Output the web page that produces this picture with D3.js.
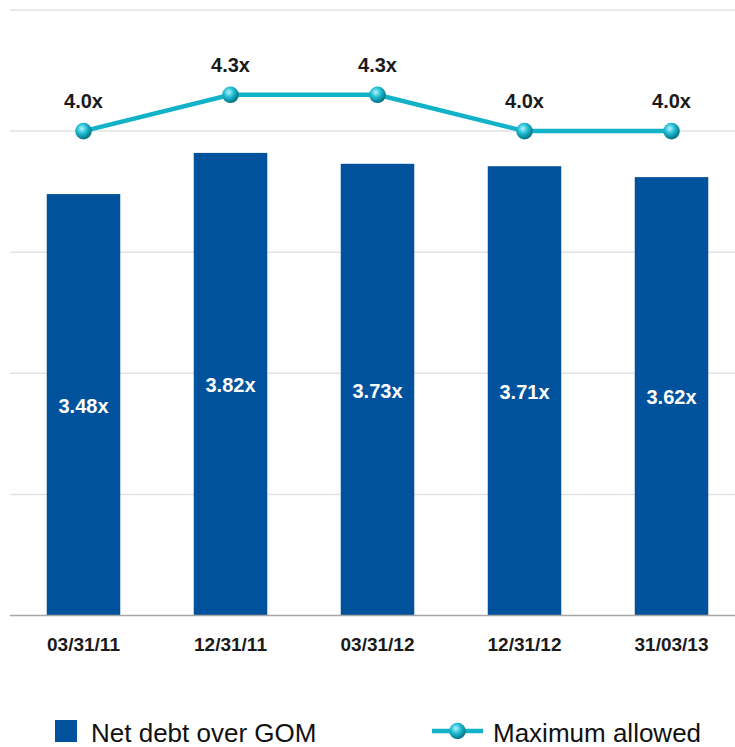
<!DOCTYPE html>
<html>
<head>
<meta charset="utf-8">
<script src="https://cdn.jsdelivr.net/npm/d3@7"></script>
<style>
  body { margin: 0; background: #fff; }
  text { font-family: "Liberation Sans", Arial, sans-serif; }
</style>
</head>
<body>
<script>
// chart values
var categories = ["03/31/11", "12/31/11", "03/31/12", "12/31/12", "31/03/13"];
var netDebt = [3.48, 3.82, 3.73, 3.71, 3.62];
var maxAllowed = [4.0, 4.3, 4.3, 4.0, 4.0];
var yTicks = [0, 1, 2, 3, 4, 5];
var seriesNames = ["Net debt over GOM", "Maximum allowed"];

var svgWidth = 735, svgHeight = 747;
var barColor = "#00529c", lineColor = "#12b2c8";

var svg = d3.select("body").append("svg").attr("width", svgWidth).attr("height", svgHeight);

var defs = svg.append("defs");
var grad = defs.append("radialGradient").attr("id", "ball")
  .attr("cx", "40%").attr("cy", "35%").attr("r", "65%");
grad.append("stop").attr("offset", "0%").attr("stop-color", "#b8f2fa");
grad.append("stop").attr("offset", "45%").attr("stop-color", "#22bfd6");
grad.append("stop").attr("offset", "100%").attr("stop-color", "#02707f");

var x = d3.scaleBand().domain(categories).range([10, 745]).paddingInner(0.5).paddingOuter(0.25);
var y = d3.scaleLinear().domain([0, 5]).range([615.5, 10]);

// gridlines
svg.append("g").selectAll("line").data(yTicks.filter(d => d > 0)).enter().append("line")
  .attr("x1", 10).attr("x2", 735)
  .attr("y1", d => y(d)).attr("y2", d => y(d))
  .attr("stroke", "#e2e2e2").attr("stroke-width", 1.5);

// bars
svg.append("g").selectAll("rect").data(netDebt).enter().append("rect")
  .attr("x", (d, i) => x(categories[i]))
  .attr("width", x.bandwidth())
  .attr("y", d => y(d))
  .attr("height", d => y(0) - y(d))
  .attr("fill", barColor);

// x axis
var xAxis = svg.append("g").attr("transform", `translate(0,${y(0)})`)
  .call(d3.axisBottom(x).tickSize(0).tickPadding(22));
xAxis.select(".domain").attr("d", "M10,0H735").attr("stroke", "#a6a6a6").attr("stroke-width", 1.5);
xAxis.selectAll("text").attr("font-size", "19px").attr("font-weight", "bold").attr("fill", "#1a1a1a")
  .attr("font-family", "Liberation Sans, Arial, sans-serif");

// bar labels
svg.append("g").selectAll("text").data(netDebt).enter().append("text")
  .attr("x", (d, i) => x(categories[i]) + x.bandwidth() / 2)
  .attr("y", d => (y(d) + y(0)) / 2 + 8)
  .attr("text-anchor", "middle")
  .attr("font-size", "20px").attr("font-weight", "bold").attr("fill", "#fff")
  .text(d => d.toFixed(2) + "x");

// line
var line = d3.line().x((d, i) => x(categories[i]) + x.bandwidth() / 2).y(d => y(d));
svg.append("path").datum(maxAllowed)
  .attr("d", line).attr("fill", "none").attr("stroke", lineColor).attr("stroke-width", 4.5);

svg.append("g").selectAll("circle").data(maxAllowed).enter().append("circle")
  .attr("cx", (d, i) => x(categories[i]) + x.bandwidth() / 2)
  .attr("cy", d => y(d))
  .attr("r", 8.3)
  .attr("fill", "url(#ball)");

svg.append("g").selectAll("text").data(maxAllowed).enter().append("text")
  .attr("x", (d, i) => x(categories[i]) + x.bandwidth() / 2)
  .attr("y", d => y(d) - 23)
  .attr("text-anchor", "middle")
  .attr("font-size", "20px").attr("font-weight", "bold").attr("fill", "#1a1a1a")
  .text(d => d.toFixed(1) + "x");

// legend
var legend = svg.append("g");
legend.append("rect").attr("x", 55).attr("y", 720).attr("width", 22).attr("height", 22).attr("fill", barColor);
legend.append("text").attr("x", 91).attr("y", 741.5).attr("font-size", "26px").attr("fill", "#111").text(seriesNames[0]);
legend.append("line").attr("x1", 432).attr("x2", 483).attr("y1", 731).attr("y2", 731)
  .attr("stroke", lineColor).attr("stroke-width", 4.5);
legend.append("circle").attr("cx", 457.5).attr("cy", 731).attr("r", 8.3).attr("fill", "url(#ball)");
legend.append("text").attr("x", 493).attr("y", 741.5).attr("font-size", "26px").attr("fill", "#111").text(seriesNames[1]);
</script>
</body>
</html>
